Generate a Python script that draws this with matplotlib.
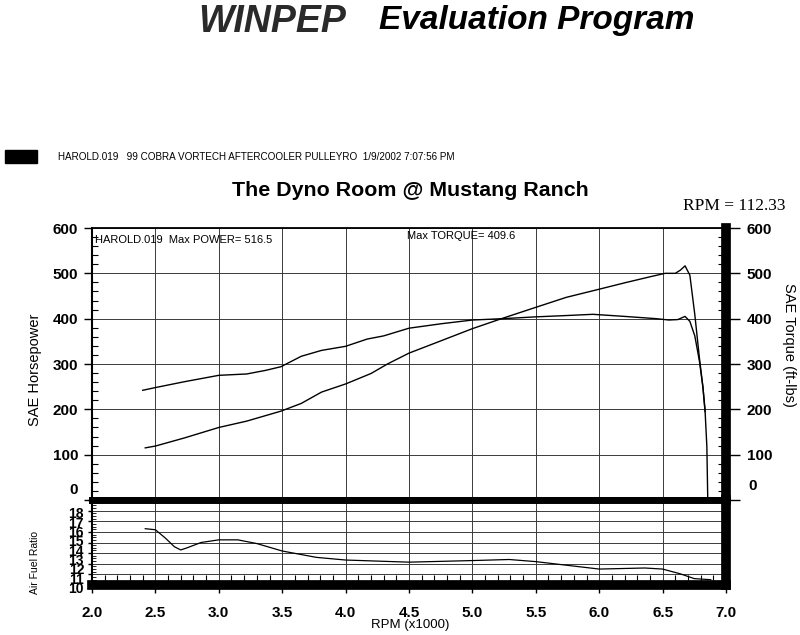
import matplotlib
matplotlib.use('Agg')
import matplotlib.pyplot as plt
from matplotlib.ticker import MultipleLocator, FormatStrFormatter, FuncFormatter
from matplotlib.patches import Rectangle
from matplotlib.transforms import blended_transform_factory, ScaledTranslation

plt.rcParams['font.family'] = ['Liberation Sans', 'DejaVu Sans']

# ---------------- data (read from the dyno sheet) ----------------
hp_rpm = [2.42, 2.5, 2.73, 3.0, 3.22, 3.49, 3.65, 3.81, 4.0, 4.2, 4.33, 4.5, 4.76,
          5.0, 5.24, 5.5, 5.74, 6.0, 6.2, 6.41, 6.52, 6.60, 6.64, 6.677, 6.715,
          6.754, 6.79, 6.818, 6.836, 6.849, 6.856]
hp = [115, 119, 137, 160, 174, 196, 213, 238, 256, 279, 300, 324, 352,
      378, 401, 425, 447, 465, 479, 493, 500, 500, 507, 516.5, 496,
      409, 314, 249, 191, 118, 4]

tq_rpm = [2.40, 2.5, 2.73, 3.0, 3.22, 3.37, 3.49, 3.65, 3.81, 4.0, 4.17, 4.3, 4.5,
          4.76, 5.0, 5.24, 5.5, 5.75, 5.95, 6.2, 6.45, 6.55, 6.62, 6.677, 6.715,
          6.754, 6.79, 6.818, 6.836]
tq = [242, 248, 261, 275, 278, 286, 294, 317, 330, 339, 355, 362, 379,
      389, 397, 400, 404, 407, 409.6, 405, 400, 397, 398, 405, 394,
      362, 307, 249, 195]

afr_rpm = [2.42, 2.5, 2.58, 2.65, 2.7, 2.75, 2.86, 3.0, 3.15, 3.3, 3.5, 3.77, 4.0,
           4.5, 5.0, 5.29, 5.5, 6.0, 6.36, 6.5, 6.64, 6.75, 6.88]
afr = [15.3, 15.2, 14.4, 13.6, 13.3, 13.5, 14.0, 14.25, 14.25, 13.9, 13.2, 12.6, 12.35,
       12.15, 12.3, 12.4, 12.2, 11.5, 11.6, 11.5, 11.05, 10.6, 10.5]

hp_ticks = [0, 100, 200, 300, 400, 500, 600]
afr_ticks = [10, 11, 12, 13, 14, 15, 16, 17, 18]
rpm_ticks = [2.0, 2.5, 3.0, 3.5, 4.0, 4.5, 5.0, 5.5, 6.0, 6.5, 7.0]

run_name = 'HAROLD.019'
max_power = 516.5
max_torque = 409.6
rpm_readout = 112.33

# ---------------- figure ----------------
W, H = 800, 635
fig = plt.figure(figsize=(W / 100, H / 100), dpi=100)
fig.patch.set_facecolor('white')

def fx(px):
    return px / W

def fy(py):
    return 1 - py / H

def shift(dx_px, dy_px):
    return ScaledTranslation(dx_px / 100, dy_px / 100, fig.dpi_scale_trans)

L, R = 92, 726
ax = fig.add_axes([fx(L), fy(500), (R - L) / W, (500 - 228) / H])
ax2 = ax.twinx()
axf = fig.add_axes([fx(L), fy(585), (R - L) / W, (585 - 500) / H])

gridkw = dict(color='#3a3a3a', lw=0.7)
boldlab = dict(fontsize=11, fontweight='bold')
no_zero = FuncFormatter(lambda v, p: '' if v == 0 else f'{v:.0f}')

# ---- main panel ----
ax.plot(tq_rpm, tq, color='black', lw=1.0, zorder=3)
ax.plot(hp_rpm, hp, color='black', lw=1.0, zorder=3)
ax.set_xlim(2.0, 7.0)
ax.set_ylim(0, 600)
ax.set_yticks(hp_ticks)
ax.yaxis.set_major_formatter(no_zero)
ax.yaxis.set_minor_locator(MultipleLocator(20))
ax.xaxis.set_major_locator(MultipleLocator(0.5))
ax.tick_params(axis='x', which='both', length=0, labelbottom=False)
ax.tick_params(axis='y', which='major', direction='out', length=6, width=1, pad=4,
               labelsize=11)
ax.tick_params(axis='y', which='minor', direction='in', length=4, width=0.8)
for lab in ax.get_yticklabels():
    lab.set_fontweight('bold')
ax.grid(True, which='major', **gridkw)
ax.set_axisbelow(True)
ax.spines['top'].set_linewidth(1.3)
ax.spines['left'].set_linewidth(1.5)
ax.spines['bottom'].set_linewidth(5)
ax.spines['right'].set_visible(False)
# zero label sits just above the heavy baseline
ax.text(0, hp_ticks[0], '0', ha='right', va='bottom', **boldlab,
        transform=blended_transform_factory(ax.transAxes, ax.transData) + shift(-14, 3))

ax2.set_ylim(0, 600)
ax2.set_yticks(hp_ticks)
ax2.yaxis.set_major_formatter(no_zero)
ax2.yaxis.set_minor_locator(MultipleLocator(20))
ax2.tick_params(axis='y', which='major', direction='out', length=10, width=1, pad=5,
                labelsize=11)
ax2.tick_params(axis='y', which='minor', direction='in', length=6, width=0.8)
for lab in ax2.get_yticklabels():
    lab.set_fontweight('bold')
for s in ['top', 'left', 'bottom']:
    ax2.spines[s].set_visible(False)
ax2.spines['right'].set_linewidth(7)
ax2.text(1, hp_ticks[0], '0', ha='left', va='bottom', **boldlab,
         transform=blended_transform_factory(ax2.transAxes, ax2.transData) + shift(22, 7))

ax.text(0.004, 0.975, f'{run_name}  Max POWER= {max_power}', transform=ax.transAxes,
        fontsize=8, va='top', ha='left')
ax.text(0.497, 0.99, f'Max TORQUE= {max_torque}', transform=ax.transAxes,
        fontsize=8, va='top', ha='left')

# ---- AFR panel ----
axf.plot(afr_rpm, afr, color='black', lw=0.9, zorder=3)
axf.set_xlim(2.0, 7.0)
axf.set_ylim(10, 18)
axf.set_xticks(rpm_ticks)
axf.xaxis.set_major_formatter(FormatStrFormatter('%.1f'))
axf.xaxis.set_minor_locator(MultipleLocator(0.1))
axf.set_yticks(afr_ticks)
axf.yaxis.set_minor_locator(MultipleLocator(0.25))
axf.tick_params(axis='x', which='major', direction='out', length=6, width=1, pad=9,
                labelsize=11)
axf.tick_params(axis='x', which='minor', direction='in', length=7, width=0.8)
axf.tick_params(axis='y', which='major', direction='out', length=3, width=1,
                labelleft=False)
axf.tick_params(axis='y', which='minor', direction='in', length=3, width=0.6)
for lab in axf.get_xticklabels():
    lab.set_fontweight('bold')
# crowded AFR scale labels, squeezed a little towards the bottom as on the sheet
afr_lab_tr = blended_transform_factory(axf.transAxes, axf.transData)
for v in afr_ticks:
    axf.text(0, v, f'{v}', ha='right', va='center', fontsize=10, fontweight='bold',
             transform=afr_lab_tr + shift(-8, -(4 + (v - afr_ticks[0]) * 1.3)))
axf.grid(True, which='major', **gridkw)
axf.set_axisbelow(True)
axf.spines['top'].set_linewidth(5)
axf.spines['bottom'].set_linewidth(7)
axf.spines['right'].set_linewidth(7)
axf.spines['left'].set_linewidth(1.5)

# ---- labels and header ----
fig.text(fx(35), fy(370), 'SAE Horsepower', rotation=90, fontsize=10.5,
         ha='center', va='center')
fig.text(fx(789), fy(345), 'SAE Torque (ft-lbs)', rotation=270, fontsize=10.5,
         ha='center', va='center')
fig.text(fx(35), fy(562), 'Air Fuel Ratio', rotation=90, fontsize=7.5,
         ha='center', va='center')
fig.text(fx(410), fy(625), 'RPM (x1000)', fontsize=9.5, ha='center', va='center')

fig.text(fx(410), fy(190), 'The Dyno Room @ Mustang Ranch', fontsize=15.4,
         fontweight='bold', ha='center', va='center')
fig.text(fx(683), fy(206), f'RPM = {rpm_readout}', fontsize=12.5,
         family=['Liberation Serif', 'DejaVu Serif'], ha='left', va='center')

fig.add_artist(Rectangle((fx(5), fy(163)), 32 / W, 13 / H, transform=fig.transFigure,
                         color='black'))
fig.text(fx(58), fy(157),
         f'{run_name}   99 COBRA VORTECH AFTERCOOLER PULLEYRO  1/9/2002 7:07:56 PM',
         fontsize=7.1, ha='left', va='center')

fig.text(fx(272), fy(22), 'WINPEP', fontsize=27, fontweight='heavy', style='italic',
         color='#2a2a2a', ha='center', va='center')
fig.text(fx(537), fy(20), 'Evaluation Program', fontsize=24, fontweight='bold',
         style='italic', ha='center', va='center')

fig.savefig('out.png', dpi=100, facecolor='white')
